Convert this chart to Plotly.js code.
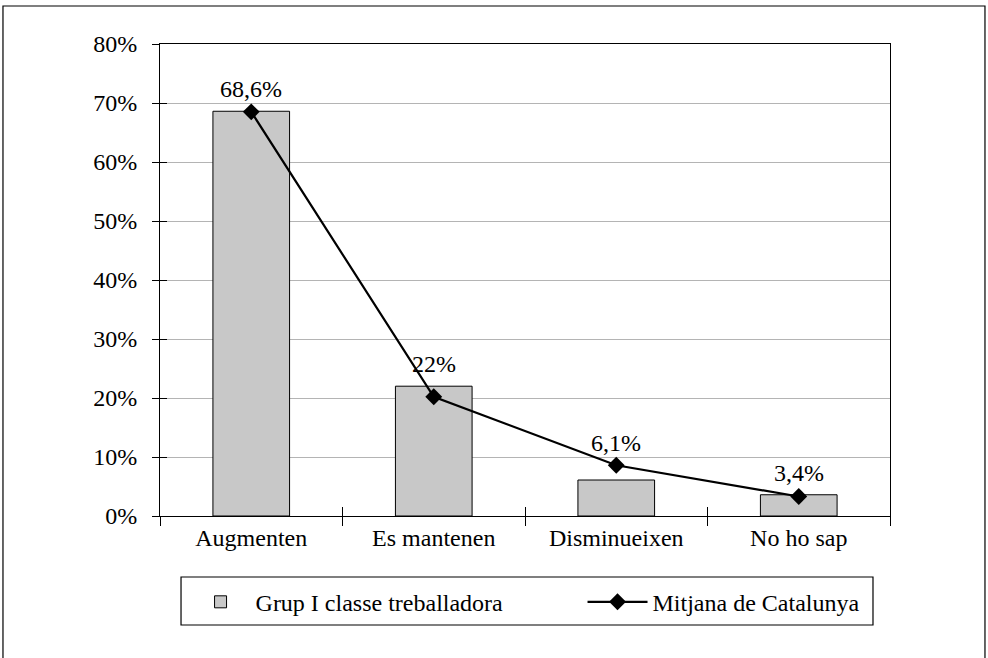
<!DOCTYPE html>
<html>
<head>
<meta charset="utf-8">
<script src="https://cdn.plot.ly/plotly-3.0.1.min.js"></script>
<style>html,body{margin:0;padding:0;background:#fff;}#chart{width:988px;height:658px;}</style>
</head>
<body>
<div id="chart"></div>
<script>
const categories = ["Augmenten", "Es mantenen", "Disminueixen", "No ho sap"];
const groupValues = [68.6, 22.0, 6.1, 3.6];
const groupLabels = ["68,6%", "22%", "6,1%", "3,4%"];
const averageValues = [68.5, 20.2, 8.6, 3.3];
const yTickValues = [0, 10, 20, 30, 40, 50, 60, 70, 80];
const yTickLabels = ["0%", "10%", "20%", "30%", "40%", "50%", "60%", "70%", "80%"];
const seriesNames = ["Grup I classe treballadora", "Mitjana de Catalunya"];

const FONT = "Liberation Serif, Times New Roman, serif";
const FS = 24;

const traces = [
  {
    type: "bar",
    name: seriesNames[0],
    x: categories,
    y: groupValues,
    marker: {color: "#c8c8c8", line: {color: "#000", width: 1}},
    legend: "legend",
    hoverinfo: "skip"
  },
  {
    type: "scatter",
    mode: "lines+markers",
    name: seriesNames[1],
    x: categories,
    y: averageValues,
    xaxis: "x2", yaxis: "y2",
    line: {color: "#000", width: 2.2},
    marker: {symbol: "diamond", size: 13, color: "#000"},
    legend: "legend2",
    hoverinfo: "skip"
  }
];

// label sits above the higher of the bar top and the line point
const annotations = categories.map((c, i) => ({
  x: c, y: Math.max(groupValues[i], averageValues[i]), xref: "x", yref: "y",
  text: groupLabels[i], showarrow: false, yshift: 22,
  font: {family: FONT, size: FS, color: "#000"}
}));

const legendBase = {
  orientation: "h",
  y: -0.135, yanchor: "top",
  bgcolor: "rgba(0,0,0,0)", borderwidth: 0,
  itemwidth: 60,
  font: {family: FONT, size: FS, color: "#000"}
};

const layout = {
  width: 988, height: 658,
  margin: {l: 160, r: 98, t: 44, b: 142, autoexpand: false},
  paper_bgcolor: "#fff", plot_bgcolor: "#fff",
  font: {family: FONT, size: FS, color: "#000"},
  showlegend: true,
  bargap: 0.58,
  xaxis: {
    type: "category",
    tickson: "boundaries",
    ticks: "outside", ticklen: 9, tickcolor: "#000", tickwidth: 1,
    showline: true, linecolor: "#000", linewidth: 1, mirror: true,
    showgrid: false, zeroline: false,
    tickfont: {family: FONT, size: FS, color: "#000"},
    fixedrange: true
  },
  xaxis2: {
    type: "category",
    overlaying: "x", anchor: "y2",
    range: [-0.5, 3.5],
    tickson: "boundaries",
    ticks: "inside", ticklen: 9, tickcolor: "#000", tickwidth: 1,
    showticklabels: false, showgrid: false, zeroline: false, showline: false,
    fixedrange: true
  },
  yaxis: {
    range: [0, 80],
    tickvals: yTickValues, ticktext: yTickLabels,
    ticks: "outside", ticklen: 7, tickcolor: "#000", tickwidth: 1,
    ticklabelstandoff: 10,
    showline: true, linecolor: "#000", linewidth: 1, mirror: true,
    showgrid: true, gridcolor: "#b4b4b4", gridwidth: 1,
    zeroline: false,
    tickfont: {family: FONT, size: FS, color: "#000"},
    fixedrange: true
  },
  yaxis2: {
    overlaying: "y", anchor: "x2", side: "left",
    range: [0, 80],
    tickvals: yTickValues,
    ticks: "inside", ticklen: 7, tickcolor: "#000", tickwidth: 1,
    showticklabels: false, showgrid: false, zeroline: false, showline: false,
    fixedrange: true
  },
  legend: Object.assign({}, legendBase, {x: 0.035, xanchor: "left"}),
  legend2: Object.assign({}, legendBase, {x: 0.5788, xanchor: "left"}),
  shapes: [
    {type: "rect", xref: "paper", yref: "paper",
     x0: -0.2151, x1: 1.1301, y0: -0.33, y1: 1.0805,
     line: {color: "#000", width: 1.2}, fillcolor: "rgba(0,0,0,0)", layer: "below"},
    {type: "rect", xref: "paper", yref: "paper",
     x0: 0.0288, x1: 0.9767, y0: -0.2309, y1: -0.1292,
     line: {color: "#000", width: 1.2}, fillcolor: "rgba(0,0,0,0)"}
  ],
  annotations: annotations
};

Plotly.newPlot("chart", traces, layout, {displayModeBar: false, staticPlot: true});
</script>
</body>
</html>
